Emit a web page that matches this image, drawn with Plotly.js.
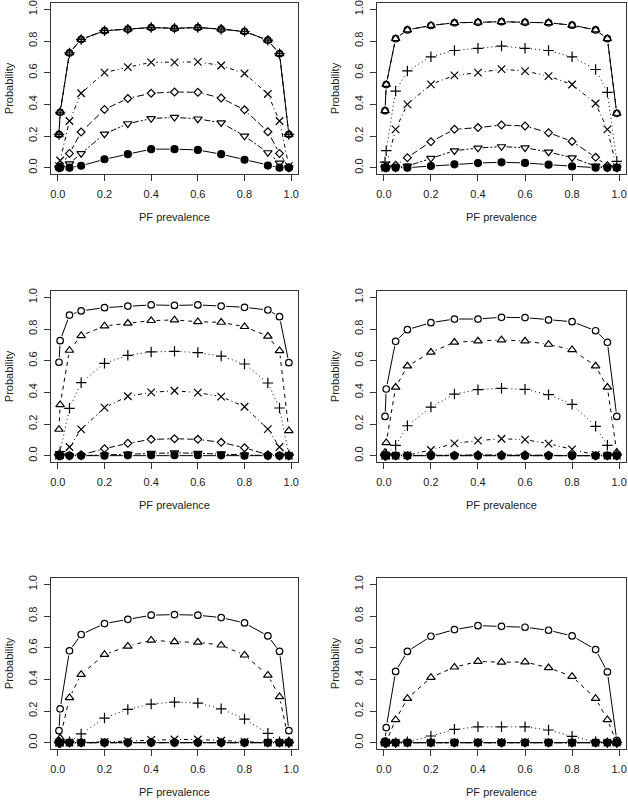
<!DOCTYPE html>
<html>
<head>
<meta charset="utf-8">
<script src="https://cdn.plot.ly/plotly-3.0.1.min.js"></script>
<style>html,body{margin:0;padding:0;background:#fff}#chart{width:628px;height:803px}</style>
</head>
<body>
<div id="chart"></div>
<script>
// PF prevalence values (x)
const prevalence = [0.005, 0.01, 0.05, 0.1, 0.2, 0.3, 0.4, 0.5, 0.6, 0.7, 0.8, 0.9, 0.95, 0.99];
const tickVals = [0, 0.2, 0.4, 0.6, 0.8, 1.0];
const tickText = ['0.0', '0.2', '0.4', '0.6', '0.8', '1.0'];
const xTitle = 'PF prevalence';
const yTitle = 'Probability';

// Panel 1
const p1_circle   = [0.21, 0.35, 0.725, 0.81, 0.865, 0.875, 0.885, 0.88, 0.885, 0.875, 0.86, 0.805, 0.72, 0.21];
const p1_triangle = [0.21, 0.35, 0.725, 0.81, 0.865, 0.875, 0.885, 0.88, 0.885, 0.875, 0.86, 0.805, 0.72, 0.21];
const p1_plus     = [0.21, 0.35, 0.725, 0.81, 0.865, 0.875, 0.885, 0.88, 0.885, 0.875, 0.86, 0.805, 0.72, 0.21];
const p1_cross    = [0.01, 0.045, 0.295, 0.47, 0.60, 0.635, 0.665, 0.665, 0.668, 0.645, 0.595, 0.465, 0.295, 0.01];
const p1_diamond  = [0, 0.005, 0.09, 0.225, 0.368, 0.437, 0.47, 0.478, 0.476, 0.44, 0.365, 0.227, 0.09, 0];
const p1_down     = [0, 0, 0.025, 0.09, 0.213, 0.278, 0.31, 0.318, 0.308, 0.284, 0.2, 0.095, 0.03, 0];
const p1_dot      = [0, 0, 0, 0.012, 0.053, 0.085, 0.117, 0.117, 0.112, 0.085, 0.05, 0.013, 0, 0];

// Panel 2
const p2_circle   = [0.36, 0.525, 0.815, 0.87, 0.898, 0.915, 0.918, 0.922, 0.918, 0.915, 0.9, 0.87, 0.815, 0.343];
const p2_triangle = [0.36, 0.525, 0.815, 0.87, 0.898, 0.915, 0.918, 0.922, 0.918, 0.915, 0.9, 0.87, 0.815, 0.343];
const p2_plus     = [0.035, 0.107, 0.484, 0.611, 0.70, 0.74, 0.754, 0.768, 0.754, 0.74, 0.70, 0.62, 0.476, 0.04];
const p2_cross    = [0, 0.015, 0.242, 0.40, 0.526, 0.583, 0.60, 0.622, 0.61, 0.578, 0.525, 0.405, 0.242, 0.003];
const p2_diamond  = [0, 0, 0.015, 0.063, 0.164, 0.242, 0.253, 0.269, 0.263, 0.221, 0.166, 0.065, 0.012, 0];
const p2_down     = [0, 0, 0, 0.01, 0.059, 0.107, 0.124, 0.133, 0.126, 0.099, 0.063, 0.01, 0, 0];
const p2_dot      = [0, 0, 0, 0, 0.01, 0.021, 0.029, 0.034, 0.03, 0.019, 0.008, 0, 0, 0];

// Panel 3
const p3_circle   = [0.59, 0.726, 0.888, 0.914, 0.935, 0.945, 0.952, 0.949, 0.952, 0.945, 0.937, 0.92, 0.878, 0.587];
const p3_triangle = [0.166, 0.322, 0.665, 0.758, 0.819, 0.836, 0.853, 0.857, 0.846, 0.842, 0.815, 0.754, 0.663, 0.158];
const p3_plus     = [0.005, 0.025, 0.299, 0.461, 0.583, 0.634, 0.655, 0.659, 0.651, 0.629, 0.579, 0.459, 0.301, 0.005];
const p3_cross    = [0, 0.005, 0.055, 0.166, 0.303, 0.375, 0.40, 0.41, 0.398, 0.373, 0.309, 0.168, 0.055, 0];
const p3_diamond  = [0, 0, 0, 0.005, 0.044, 0.078, 0.103, 0.107, 0.103, 0.084, 0.05, 0.005, 0, 0];
const p3_down     = [0, 0, 0, 0, 0.005, 0.01, 0.015, 0.018, 0.015, 0.012, 0.005, 0, 0, 0];
const p3_dot      = [0, 0, 0, 0, 0, 0.002, 0.003, 0.003, 0.003, 0.002, 0, 0, 0, 0];

// Panel 4
const p4_circle   = [0.248, 0.421, 0.722, 0.796, 0.84, 0.863, 0.863, 0.874, 0.872, 0.857, 0.846, 0.789, 0.716, 0.248];
const p4_triangle = [0.02, 0.082, 0.432, 0.566, 0.653, 0.716, 0.724, 0.731, 0.724, 0.703, 0.669, 0.566, 0.432, 0.021];
const p4_plus     = [0, 0.01, 0.065, 0.189, 0.307, 0.389, 0.417, 0.425, 0.419, 0.385, 0.324, 0.185, 0.065, 0.005];
const p4_cross    = [0, 0, 0, 0.003, 0.036, 0.078, 0.095, 0.107, 0.101, 0.076, 0.04, 0.005, 0, 0];
const p4_diamond  = [0, 0, 0, 0, 0, 0.003, 0.005, 0.005, 0.005, 0.003, 0, 0, 0, 0];
const p4_down     = [0, 0, 0, 0, 0, 0, 0, 0, 0, 0, 0, 0, 0, 0];
const p4_dot      = [0, 0, 0, 0, 0, 0, 0, 0, 0, 0, 0, 0, 0, 0];

// Panel 5
const p5_circle   = [0.076, 0.214, 0.58, 0.683, 0.752, 0.779, 0.805, 0.809, 0.805, 0.79, 0.756, 0.674, 0.576, 0.076];
const p5_triangle = [0.01, 0.029, 0.284, 0.431, 0.557, 0.609, 0.647, 0.637, 0.634, 0.616, 0.553, 0.426, 0.29, 0.01];
const p5_plus     = [0, 0, 0.005, 0.055, 0.155, 0.21, 0.244, 0.256, 0.25, 0.214, 0.149, 0.059, 0.005, 0];
const p5_cross    = [0, 0, 0, 0, 0.005, 0.01, 0.018, 0.02, 0.02, 0.012, 0.005, 0, 0, 0];
const p5_diamond  = [0, 0, 0, 0, 0, 0, 0.002, 0.002, 0.002, 0, 0, 0, 0, 0];
const p5_down     = [0, 0, 0, 0, 0, 0, 0, 0, 0, 0, 0, 0, 0, 0];
const p5_dot      = [0, 0, 0, 0, 0, 0, 0, 0, 0, 0, 0, 0, 0, 0];

// Panel 6
const p6_circle   = [0.01, 0.095, 0.45, 0.576, 0.672, 0.714, 0.739, 0.735, 0.729, 0.71, 0.674, 0.588, 0.447, 0.015];
const p6_triangle = [0, 0.005, 0.145, 0.279, 0.412, 0.477, 0.513, 0.508, 0.51, 0.473, 0.418, 0.279, 0.145, 0];
const p6_plus     = [0, 0, 0, 0.005, 0.042, 0.084, 0.1, 0.1, 0.1, 0.08, 0.04, 0.005, 0, 0];
const p6_cross    = [0, 0, 0, 0, 0, 0.002, 0.003, 0.003, 0.003, 0.002, 0, 0, 0, 0];
const p6_diamond  = [0, 0, 0, 0, 0, 0, 0, 0, 0, 0, 0, 0, 0, 0];
const p6_down     = [0, 0, 0, 0, 0, 0, 0, 0, 0, 0, 0, 0, 0, 0];
const p6_dot      = [0, 0, 0, 0, 0, 0, 0, 0, 0, 0, 0, 0, 0, 0];

const panels = [
  [p1_circle, p1_triangle, p1_plus, p1_cross, p1_diamond, p1_down, p1_dot],
  [p2_circle, p2_triangle, p2_plus, p2_cross, p2_diamond, p2_down, p2_dot],
  [p3_circle, p3_triangle, p3_plus, p3_cross, p3_diamond, p3_down, p3_dot],
  [p4_circle, p4_triangle, p4_plus, p4_cross, p4_diamond, p4_down, p4_dot],
  [p5_circle, p5_triangle, p5_plus, p5_cross, p5_diamond, p5_down, p5_dot],
  [p6_circle, p6_triangle, p6_plus, p6_cross, p6_diamond, p6_down, p6_dot]
];

// styles (R pch 1..6, 16 and lty 1..6,1)
const symbols = ['circle-open', 'triangle-up-open', 'cross-thin-open', 'x-thin-open', 'diamond-open', 'triangle-down-open', 'circle'];
const sizes   = [6.5, 7.5, 7.5, 7.5, 6, 7.5, 7];
const dashes  = ['solid', '4px,4px', '1px,3px', '1px,3px,4px,3px', '7px,3px', '2px,2px,6px,2px', 'solid'];

const W = 628, H = 803;
// panel boxes in pixels [left, right, top, bottom]
const boxes = [
  [51, 298, 3, 174], [377, 626, 3, 174],
  [51, 298, 291, 462], [377, 626, 291, 462],
  [51, 298, 578, 749], [377, 626, 578, 749]
];

const traces = [];
const layout = {
  width: W, height: H,
  margin: {l: 0, r: 0, t: 0, b: 0},
  paper_bgcolor: '#fff', plot_bgcolor: '#fff',
  showlegend: false,
  font: {family: '"Liberation Sans", Arial, sans-serif', size: 11, color: '#222'}
};

const axFont = {family: '"Liberation Sans", Arial, sans-serif', size: 11, color: '#222'};

panels.forEach((series, i) => {
  const n = i + 1;
  const xa = 'x' + (n === 1 ? '' : n), ya = 'y' + (n === 1 ? '' : n);
  const b = boxes[i];
  const common = {
    showline: true, mirror: true, linecolor: '#333', linewidth: 1,
    ticks: 'outside', ticklen: 6, tickwidth: 1, tickcolor: '#333',
    showgrid: false, zeroline: false,
    tickvals: tickVals, ticktext: tickText, tickfont: axFont,
    fixedrange: true
  };
  layout['xaxis' + (n === 1 ? '' : n)] = Object.assign({}, common, {
    domain: [b[0] / W, b[1] / W], range: [-0.0292, 1.0292], anchor: ya,
    ticklabelstandoff: 4,
    title: {text: xTitle, font: axFont, standoff: 14}
  });
  layout['yaxis' + (n === 1 ? '' : n)] = Object.assign({}, common, {
    domain: [1 - b[3] / H, 1 - b[2] / H], range: [-0.04, 1.04], anchor: xa,
    tickangle: -90, ticklabelstandoff: 3,
    title: {text: yTitle, font: axFont, standoff: 10}
  });
  // lines
  series.forEach((ys, k) => {
    traces.push({x: prevalence, y: ys, xaxis: xa, yaxis: ya, mode: 'lines', hoverinfo: 'skip',
      line: {color: '#000', width: 1, dash: dashes[k]}});
  });
  // white gaps around points (R type="b")
  series.forEach((ys) => {
    traces.push({x: prevalence, y: ys, xaxis: xa, yaxis: ya, mode: 'markers', hoverinfo: 'skip',
      marker: {symbol: 'circle', size: 10, color: '#fff', line: {width: 0}}});
  });
  // point symbols
  series.forEach((ys, k) => {
    traces.push({x: prevalence, y: ys, xaxis: xa, yaxis: ya, mode: 'markers',
      marker: {symbol: symbols[k], size: sizes[k], color: '#000', line: {color: '#000', width: 1.2}}});
  });
});

Plotly.newPlot('chart', traces, layout, {staticPlot: true, displayModeBar: false});
</script>
</body>
</html>
